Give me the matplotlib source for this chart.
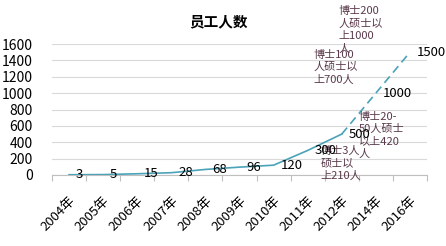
import matplotlib
matplotlib.use("Agg")
import matplotlib.pyplot as plt

plt.rcParams['font.family'] = ['Noto Sans CJK SC', 'DejaVu Sans']

categories = ["2004年", "2005年", "2006年", "2007年", "2008年", "2009年",
              "2010年", "2011年", "2012年", "2014年", "2016年"]
values = [3, 5, 15, 28, 68, 96, 120, 300, 500, 1000, 1500]
labels = ["3", "5", "15", "28", "68", "96", "120", "300", "500", "1000", "1500"]
solid_n = 9  # points drawn solid (through 2012), then dashed
notes = ["博士3人\n硕士以\n上210人", "博士20-\n50人硕士\n以上420\n人",
         "博士100\n人硕士以\n上700人", "博士200\n人硕士以\n上1000\n人"]
note_pos = [(7.39, 354), (8.5, 775), (7.16, 1530), (7.89, 2060)]
yticks = [0, 200, 400, 600, 800, 1000, 1200, 1400, 1600]

W, H = 446, 246
fig = plt.figure(figsize=(W / 100, H / 100), dpi=100)
ax = fig.add_axes([52 / W, 1 - 175 / H, (427 - 52) / W, (175 - 44) / H])

x = list(range(len(categories)))
line_color = "#4aa3b8"
ax.plot(x[:solid_n], values[:solid_n], color=line_color, lw=1.2, zorder=3)
ax.plot(x[solid_n - 1:], values[solid_n - 1:], color=line_color, lw=1.2,
        ls=(0, (5, 3)), zorder=3)

for xi, v, t in zip(x, values, labels):
    ax.annotate(t, (xi, v), xytext=(5, 0), textcoords="offset points",
                ha="left", va="center", fontsize=9.5, color="black", zorder=5)

for t, (nx, ny) in zip(notes, note_pos):
    ax.text(nx, ny, t, ha="left", va="top", fontsize=8, color="#5a3a4c",
            linespacing=1.3, zorder=4, clip_on=False)

ax.set_xlim(-0.5, len(categories) - 0.5)
ax.set_ylim(0, 1600)
ax.set_yticks(yticks)
ax.set_yticklabels([str(v) for v in yticks], fontsize=10)
ax.tick_params(axis="y", length=0, pad=14)
ax.yaxis.grid(True, color="#d9d9d9", lw=0.8)
ax.set_axisbelow(True)

ax.set_xticks(x)
ax.set_xticklabels(categories, rotation=45, ha="right", va="top",
                   rotation_mode="anchor", fontsize=9.5)
ax.tick_params(axis="x", which="major", length=0, pad=14)
ax.set_xticks([i - 0.5 for i in range(len(categories) + 1)], minor=True)
ax.tick_params(axis="x", which="minor", length=4, color="#bfbfbf", width=0.8)

for s in ["top", "right", "left"]:
    ax.spines[s].set_visible(False)
ax.spines["bottom"].set_color("#bfbfbf")
ax.spines["bottom"].set_linewidth(0.8)

fig.text(218 / W, 1 - 21 / H, "员工人数", ha="center", va="center",
         fontsize=10.5, fontweight="bold")

fig.savefig("out.png", dpi=100)
